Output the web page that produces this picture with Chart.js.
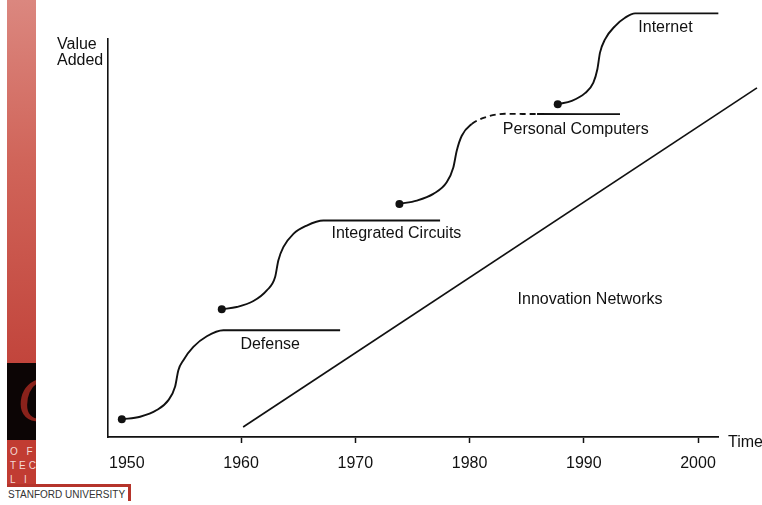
<!DOCTYPE html>
<html>
<head>
<meta charset="utf-8">
<script src="https://cdn.jsdelivr.net/npm/chart.js@4.4.1/dist/chart.umd.min.js"></script>
<style>
  html, body { margin: 0; padding: 0; background: #fff; }
  #wrap { position: relative; width: 762px; height: 505px; overflow: hidden; }
  .strip { position: absolute; left: 7px; top: 0; width: 29px; height: 363px;
    background: linear-gradient(#db877f, #d06459 45%, #c2453c); }
  .blk { position: absolute; left: 7px; top: 363px; width: 29px; height: 77px; background: #0c0505; overflow: hidden; }
  .blk span { position: absolute; left: 10px; top: -2px; font: italic 66px "Liberation Serif", serif; color: #8a221b; }
  .red { position: absolute; left: 7px; top: 440px; width: 29px; height: 44px; background: #c13c32;
    color: #f4d9d5; font: 10px "Liberation Sans", sans-serif; letter-spacing: 3px; line-height: 14px;
    padding: 5px 0 0 3px; box-sizing: border-box; overflow: hidden; white-space: pre; }
  .bar { position: absolute; left: 7px; top: 484px; width: 124px; height: 3px; background: #b5342b; }
  .vbar { position: absolute; left: 128px; top: 484px; width: 3px; height: 17px; background: #b5342b; }
  .su { position: absolute; left: 8px; top: 489px; font: 10px "Liberation Sans", sans-serif; color: #333; }
  canvas { position: absolute; left: 0; top: 0; }
</style>
</head>
<body>
<div id="wrap">
  <div class="strip"></div>
  <div class="blk"><span>C</span></div>
  <div class="red">O F
TEC
L I</div>
  <div class="bar"></div>
  <div class="vbar"></div>
  <div class="su">STANFORD UNIVERSITY</div>
  <canvas id="c" width="762" height="505"></canvas>
</div>
<script>
// axis
const tickYears = [1950, 1960, 1970, 1980, 1990, 2000];
const xMin = 1948.35, xMax = 2001.75;

// S-curves (year, value added)
const defenseX = [1949.56, 1951.16, 1952.62, 1953.64, 1954.22, 1954.51, 1954.95, 1955.82, 1957.0, 1958.45, 1968.67];
const defenseY = [4.44, 5.09, 6.77, 9.27, 12.61, 16.79, 19.3, 22.63, 25.31, 26.82, 26.82];

const icX = [1958.31, 1959.62, 1961.08, 1962.25, 1962.98, 1963.26, 1963.7, 1964.58, 1965.75, 1967.2, 1977.42];
const icY = [32.08, 32.66, 34.16, 36.84, 40.18, 44.36, 47.69, 51.05, 53.13, 54.39, 54.39];

const pcX = [1973.86, 1975.38, 1976.83, 1978.0, 1978.58, 1978.88, 1979.32, 1980.19, 1981.51, 1983.11, 1985.91, 1993.17];
const pcY = [58.57, 59.4, 61.08, 63.98, 67.74, 71.93, 75.69, 78.62, 80.45, 81.2, 81.15, 81.13];

const netX = [1987.72, 1988.95, 1990.11, 1990.84, 1991.19, 1991.42, 1991.86, 1992.74, 1993.61, 1994.49, 2001.78];
const netY = [83.63, 84.46, 86.39, 89.05, 92.41, 96.57, 99.92, 103.26, 105.34, 106.44, 106.44];

// innovation networks trend line
const trendX = [1960.18, 2005.16];
const trendY = [2.51, 87.72];

// annotations
const names = ["Defense", "Integrated Circuits", "Personal Computers", "Internet", "Innovation Networks"];
const nameX = [1962.55, 1973.6, 1989.3, 1997.15, 1990.55];
const nameY = [23.3, 51.1, 77.2, 102.8, 34.6];

const FONT = '"Liberation Sans", Arial, sans-serif';
const INK = "#111";

const pts = (xs, ys) => xs.map((x, i) => ({ x, y: ys[i] }));

function curve(xs, ys, extra = {}) {
  return Object.assign({
    data: pts(xs, ys),
    borderColor: INK,
    borderWidth: 1.9,
    cubicInterpolationMode: "monotone",
    pointRadius: (c) => (c.dataIndex === 0 ? 4 : 0),
    pointBackgroundColor: INK,
    pointBorderWidth: 0,
    clip: false,
  }, extra);
}

const annot = {
  id: "annot",
  afterDraw(chart) {
    const { ctx, chartArea: a, scales: { x, y } } = chart;
    ctx.save();
    ctx.fillStyle = INK;
    ctx.font = "16px " + FONT;
    ctx.textAlign = "center";
    ctx.textBaseline = "middle";
    names.forEach((n, i) => ctx.fillText(n, x.getPixelForValue(nameX[i]), y.getPixelForValue(nameY[i])));
    ctx.textAlign = "left";
    ctx.fillText("Value", a.left - 51, a.top + 6);
    ctx.fillText("Added", a.left - 51, a.top + 22);
    ctx.fillText("Time", a.right + 10, a.bottom + 6);
    ctx.restore();
  },
};

new Chart(document.getElementById("c"), {
  type: "line",
  data: {
    datasets: [
      curve(defenseX, defenseY),
      curve(icX, icY),
      curve(pcX, pcY, {
        segment: {
          borderDash: (c) => (c.p0.parsed.x >= 1980.1 && c.p1.parsed.x <= 1986 ? [6, 4] : undefined),
        },
      }),
      curve(netX, netY),
      curve(trendX, trendY, { borderWidth: 1.7, pointRadius: 0, cubicInterpolationMode: "default", tension: 0 }),
    ],
  },
  options: {
    responsive: false,
    animation: false,
    layout: { padding: { left: 108, top: 39, right: 44, bottom: 0 } },
    plugins: { legend: { display: false }, tooltip: { enabled: false } },
    scales: {
      x: {
        type: "linear",
        min: xMin,
        max: xMax,
        afterBuildTicks: (s) => { s.ticks = tickYears.map((v) => ({ value: v })); },
        afterFit: (s) => { s.height = 68; },
        grid: {
          display: true,
          drawOnChartArea: false,
          tickLength: 6,
          tickWidth: 1.5,
          tickColor: (c) => (c.tick && c.tick.value === 1950 ? "rgba(0,0,0,0)" : INK),
        },
        border: { display: true, color: INK, width: 1.8 },
        ticks: {
          color: INK, font: { family: FONT, size: 16 }, padding: 11, maxRotation: 0, autoSkip: false,
          callback: (v) => String(v),
        },
      },
      y: {
        type: "linear",
        min: 0,
        max: 100,
        afterFit: (s) => { s.width = 0; },
        grid: { display: false, drawTicks: false },
        border: { display: true, color: INK, width: 1.6 },
        ticks: { display: false },
      },
    },
  },
  plugins: [annot],
});
</script>
</body>
</html>
